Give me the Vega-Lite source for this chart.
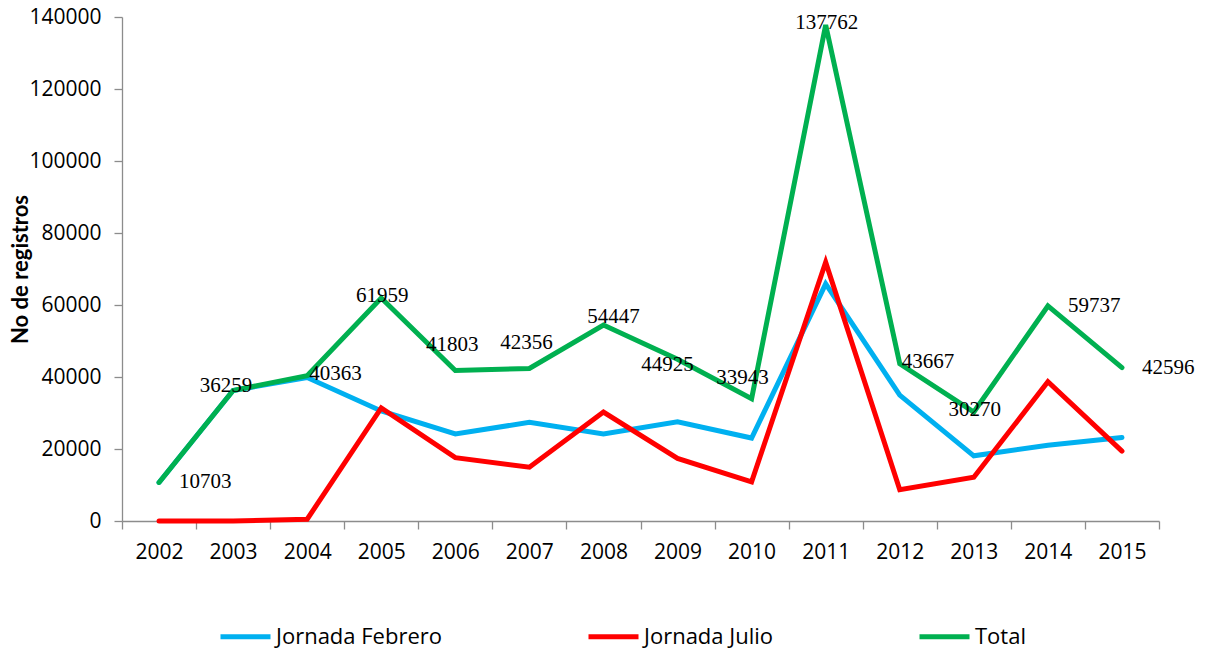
{
  "$schema": "https://vega.github.io/schema/vega-lite/v6.json",
  "autosize": "none",
  "padding": {"left": 122, "top": 17, "right": 48, "bottom": 127},
  "width": 1037,
  "height": 504,
  "background": "white",
  "config": {"view": {"stroke": null}, "axis": {"grid": false}},
  "data": {"values": [
    {"year": 2002, "serie": "Jornada Febrero", "value": 10703},
    {"year": 2003, "serie": "Jornada Febrero", "value": 36259},
    {"year": 2004, "serie": "Jornada Febrero", "value": 39863},
    {"year": 2005, "serie": "Jornada Febrero", "value": 30559},
    {"year": 2006, "serie": "Jornada Febrero", "value": 24200},
    {"year": 2007, "serie": "Jornada Febrero", "value": 27400},
    {"year": 2008, "serie": "Jornada Febrero", "value": 24200},
    {"year": 2009, "serie": "Jornada Febrero", "value": 27550},
    {"year": 2010, "serie": "Jornada Febrero", "value": 23043},
    {"year": 2011, "serie": "Jornada Febrero", "value": 65862},
    {"year": 2012, "serie": "Jornada Febrero", "value": 34967},
    {"year": 2013, "serie": "Jornada Febrero", "value": 18100},
    {"year": 2014, "serie": "Jornada Febrero", "value": 21037},
    {"year": 2015, "serie": "Jornada Febrero", "value": 23196},
    {"year": 2002, "serie": "Jornada Julio", "value": 0},
    {"year": 2003, "serie": "Jornada Julio", "value": 0},
    {"year": 2004, "serie": "Jornada Julio", "value": 500},
    {"year": 2005, "serie": "Jornada Julio", "value": 31400},
    {"year": 2006, "serie": "Jornada Julio", "value": 17603},
    {"year": 2007, "serie": "Jornada Julio", "value": 14956},
    {"year": 2008, "serie": "Jornada Julio", "value": 30247},
    {"year": 2009, "serie": "Jornada Julio", "value": 17375},
    {"year": 2010, "serie": "Jornada Julio", "value": 10900},
    {"year": 2011, "serie": "Jornada Julio", "value": 71900},
    {"year": 2012, "serie": "Jornada Julio", "value": 8700},
    {"year": 2013, "serie": "Jornada Julio", "value": 12170},
    {"year": 2014, "serie": "Jornada Julio", "value": 38700},
    {"year": 2015, "serie": "Jornada Julio", "value": 19400},
    {"year": 2002, "serie": "Total", "value": 10703},
    {"year": 2003, "serie": "Total", "value": 36259},
    {"year": 2004, "serie": "Total", "value": 40363},
    {"year": 2005, "serie": "Total", "value": 61959},
    {"year": 2006, "serie": "Total", "value": 41803},
    {"year": 2007, "serie": "Total", "value": 42356},
    {"year": 2008, "serie": "Total", "value": 54447},
    {"year": 2009, "serie": "Total", "value": 44925},
    {"year": 2010, "serie": "Total", "value": 33943},
    {"year": 2011, "serie": "Total", "value": 137762},
    {"year": 2012, "serie": "Total", "value": 43667},
    {"year": 2013, "serie": "Total", "value": 30270},
    {"year": 2014, "serie": "Total", "value": 59737},
    {"year": 2015, "serie": "Total", "value": 42596}
  ]},
  "encoding": {
    "x": {
      "field": "year", "type": "quantitative",
      "scale": {"domain": [2001.5, 2015.5], "nice": false, "zero": false},
      "axis": {
        "title": null,
        "values": [2001.5, 2002.5, 2003.5, 2004.5, 2005.5, 2006.5, 2007.5, 2008.5, 2009.5, 2010.5, 2011.5, 2012.5, 2013.5, 2014.5, 2015.5],
        "labelExpr": "datum.value > 2015 ? '' : toString(datum.value + 0.5)",
        "labelOffset": 37,
        "labelFlush": false,
        "labelOverlap": false,
        "labelBound": false,
        "labelFont": "Open Sans",
        "labelFontSize": 21,
        "labelColor": "#000000",
        "labelPadding": 12,
        "tickSize": 8,
        "tickColor": "#8C8C8C",
        "domainColor": "#8C8C8C",
        "tickWidth": 1.3,
        "domainWidth": 1.3
      }
    },
    "y": {
      "field": "value", "type": "quantitative",
      "scale": {"domain": [0, 140000], "nice": false},
      "axis": {
        "title": "No de registros",
        "titleFont": "Lato",
        "titleFontSize": 22,
        "titleFontWeight": "bold",
        "titleColor": "#000000",
        "titleAngle": -90,
        "titleAlign": "center",
        "titleBaseline": "middle",
        "titleX": -102,
        "titleY": 252,
        "values": [0, 20000, 40000, 60000, 80000, 100000, 120000, 140000],
        "format": "d",
        "labelFont": "Open Sans",
        "labelFontSize": 21,
        "labelColor": "#000000",
        "labelPadding": 13,
        "tickSize": 8,
        "tickColor": "#8C8C8C",
        "domainColor": "#8C8C8C",
        "tickWidth": 1.3,
        "domainWidth": 1.3
      }
    }
  },
  "layer": [
    {
      "mark": {"type": "line", "strokeWidth": 5, "strokeCap": "round"},
      "encoding": {
        "color": {
          "field": "serie", "type": "nominal",
          "scale": {"domain": ["Jornada Febrero", "Jornada Julio", "Total"], "range": ["#00B0F0", "#FF0000", "#00B050"]},
          "legend": {
            "title": null,
            "orient": "none",
            "direction": "horizontal",
            "legendX": 96,
            "legendY": 592,
            "symbolType": "stroke",
            "symbolSize": 2500,
            "symbolStrokeWidth": 5,
            "labelFont": "Open Sans",
            "labelFontSize": 22,
            "labelLimit": 400,
            "labelColor": "#000000",
            "labelOffset": 3,
            "columnPadding": 136,
            "padding": 0
          }
        }
      }
    },
    {
      "transform": [{"filter": {"field": "serie", "equal": "Total"}}, {"filter": {"field": "year", "oneOf": [2002, 2014, 2015]}}],
      "mark": {"type": "text", "align": "left", "baseline": "middle", "dx": 20, "dy": 0, "font": "Liberation Serif", "fontSize": 21, "color": "#000000"},
      "encoding": {"text": {"field": "value", "type": "quantitative", "format": "d"}}
    },
    {
      "transform": [{"filter": {"field": "serie", "equal": "Total"}}, {"filter": {"field": "year", "oneOf": [2004, 2012]}}],
      "mark": {"type": "text", "align": "left", "baseline": "middle", "dx": 2, "dy": -2, "font": "Liberation Serif", "fontSize": 21, "color": "#000000"},
      "encoding": {"text": {"field": "value", "type": "quantitative", "format": "d"}}
    },
    {
      "transform": [{"filter": {"field": "serie", "equal": "Total"}}, {"filter": {"field": "year", "oneOf": [2005, 2011, 2013]}}],
      "mark": {"type": "text", "align": "center", "baseline": "middle", "dx": 1, "dy": -2, "font": "Liberation Serif", "fontSize": 21, "color": "#000000"},
      "encoding": {"text": {"field": "value", "type": "quantitative", "format": "d"}}
    },
    {
      "transform": [{"filter": {"field": "serie", "equal": "Total"}}, {"filter": {"field": "year", "oneOf": [2003]}}],
      "mark": {"type": "text", "align": "center", "baseline": "middle", "dx": -7, "dy": -4, "font": "Liberation Serif", "fontSize": 21, "color": "#000000"},
      "encoding": {"text": {"field": "value", "type": "quantitative", "format": "d"}}
    },
    {
      "transform": [{"filter": {"field": "serie", "equal": "Total"}}, {"filter": {"field": "year", "oneOf": [2006, 2007]}}],
      "mark": {"type": "text", "align": "center", "baseline": "middle", "dx": -3, "dy": -26, "font": "Liberation Serif", "fontSize": 21, "color": "#000000"},
      "encoding": {"text": {"field": "value", "type": "quantitative", "format": "d"}}
    },
    {
      "transform": [{"filter": {"field": "serie", "equal": "Total"}}, {"filter": {"field": "year", "oneOf": [2008]}}],
      "mark": {"type": "text", "align": "center", "baseline": "middle", "dx": 10, "dy": -8, "font": "Liberation Serif", "fontSize": 21, "color": "#000000"},
      "encoding": {"text": {"field": "value", "type": "quantitative", "format": "d"}}
    },
    {
      "transform": [{"filter": {"field": "serie", "equal": "Total"}}, {"filter": {"field": "year", "oneOf": [2009]}}],
      "mark": {"type": "text", "align": "center", "baseline": "middle", "dx": -10, "dy": 6, "font": "Liberation Serif", "fontSize": 21, "color": "#000000"},
      "encoding": {"text": {"field": "value", "type": "quantitative", "format": "d"}}
    },
    {
      "transform": [{"filter": {"field": "serie", "equal": "Total"}}, {"filter": {"field": "year", "oneOf": [2010]}}],
      "mark": {"type": "text", "align": "center", "baseline": "middle", "dx": -9, "dy": -21, "font": "Liberation Serif", "fontSize": 21, "color": "#000000"},
      "encoding": {"text": {"field": "value", "type": "quantitative", "format": "d"}}
    }
  ]
}
